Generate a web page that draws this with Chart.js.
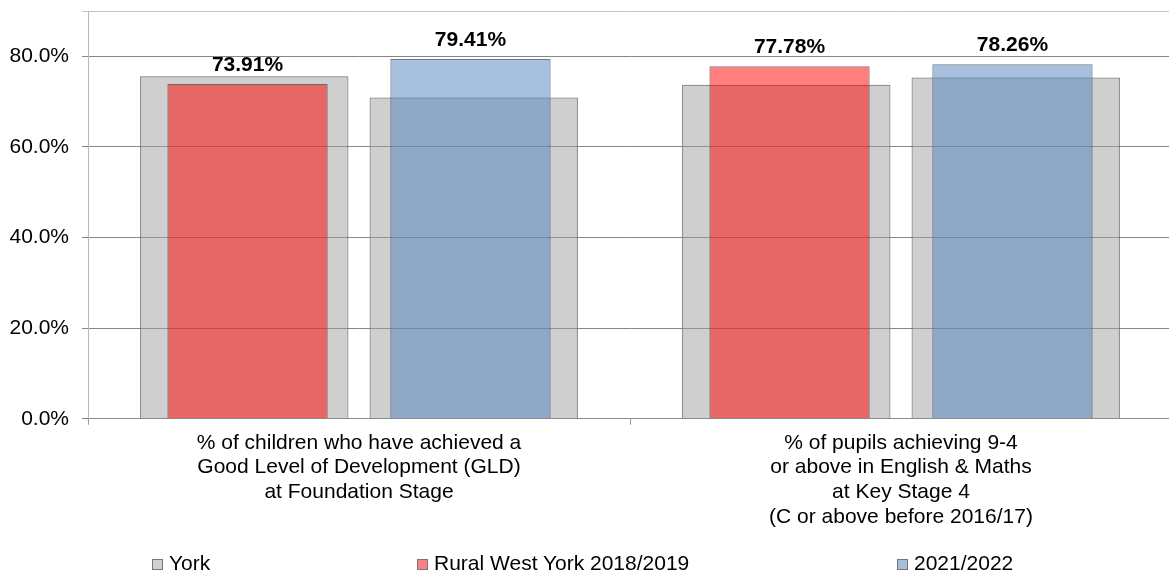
<!DOCTYPE html>
<html>
<head>
<meta charset="utf-8">
<script src="https://cdn.jsdelivr.net/npm/chart.js@4.4.1/dist/chart.umd.min.js"></script>
<style>
  html, body { margin: 0; padding: 0; background: #fff; overflow: hidden; width: 1169px; height: 574px; }
  #wrap { position: absolute; left: 0; top: 0; width: 1172px; height: 574px; }
  #legend { position: absolute; left: 0; top: 0; width: 1169px; height: 574px; pointer-events: none;
            font-family: 'Liberation Sans', Arial, sans-serif; font-size: 21px; color: #000; }
  .item { position: absolute; top: 551px; white-space: nowrap; line-height: 24px; }
  .box { display: inline-block; width: 9px; height: 9px; border: 1px solid #777; margin-right: 6px; vertical-align: 0px; }
</style>
</head>
<body>
<div id="wrap"><canvas id="c"></canvas></div>
<div id="legend"></div>
<script>
const categories = [
  ['% of children who have achieved a', 'Good Level of Development (GLD)', 'at Foundation Stage'],
  ['% of pupils achieving 9-4', 'or above in English & Maths', 'at Key Stage 4', '(C or above before 2016/17)']
];
const yorkPrev = [75.6, 73.7];
const yorkCurr = [70.9, 75.3];
const ruralPrev = [73.91, 77.78];
const ruralCurr = [79.41, 78.26];
const seriesNames = ['York', 'Rural West York 2018/2019', '2021/2022'];
const yTickValues = [0, 20, 40, 60, 80];
const yMax = 90;

const FONT = "'Liberation Sans', Arial, sans-serif";
const GREY_FILL = 'rgba(160,160,160,0.5)';
const RED_FILL = 'rgba(255,0,0,0.5)';
const BLUE_FILL = 'rgba(79,129,189,0.5)';

const greyOpts = { backgroundColor: GREY_FILL, borderColor: '#6e6e6e', borderWidth: 1,
                   categoryPercentage: 0.8466, barPercentage: 0.908, order: 2 };
const colOpts = { borderWidth: 1, categoryPercentage: 0.8226, barPercentage: 0.719, order: 1 };

const valueLabels = {
  id: 'valueLabels',
  afterDatasetsDraw(chart) {
    const ctx = chart.ctx;
    ctx.save();
    ctx.font = "bold 21px " + FONT;
    ctx.fillStyle = '#000';
    ctx.textAlign = 'center';
    ctx.textBaseline = 'alphabetic';
    chart.data.datasets.forEach((ds, di) => {
      if (!ds.showValue) return;
      const meta = chart.getDatasetMeta(di);
      meta.data.forEach((el, i) => {
        ctx.fillText(ds.data[i].toFixed(2) + '%', el.x, el.y - 13);
      });
    });
    ctx.restore();
  }
};

new Chart(document.getElementById('c'), {
  type: 'bar',
  data: {
    labels: categories,
    datasets: [
      Object.assign({ label: seriesNames[0], data: yorkPrev, stack: 'prev' }, greyOpts),
      Object.assign({ label: seriesNames[0] + ' (2021/2022)', data: yorkCurr, stack: 'curr' }, greyOpts),
      Object.assign({ label: seriesNames[1], data: ruralPrev, stack: 'prev', backgroundColor: RED_FILL, borderColor: 'rgba(70,40,40,0.65)', showValue: true }, colOpts),
      Object.assign({ label: seriesNames[2], data: ruralCurr, stack: 'curr', backgroundColor: BLUE_FILL, borderColor: 'rgba(40,50,70,0.65)', showValue: true }, colOpts)
    ]
  },
  options: {
    responsive: true,
    maintainAspectRatio: false,
    animation: false,
    layout: { padding: { left: 9, top: 11, right: 0, bottom: 39 } },
    plugins: { legend: { display: false }, tooltip: { enabled: false } },
    scales: {
      x: {
        type: 'category',
        offset: true,
        grid: { offset: true, drawOnChartArea: false, drawTicks: true, tickLength: 6, color: '#9a9a9a' },
        border: { display: true, color: '#8c8c8c' },
        ticks: { font: { family: FONT, size: 21, lineHeight: 1.17 }, color: '#000', padding: 6, maxRotation: 0, autoSkip: false }
      },
      y: {
        min: 0,
        max: yMax,
        stacked: false,
        afterBuildTicks(axis) {
          axis.ticks = yTickValues.concat([yMax]).map(v => ({ value: v }));
        },
        afterFit(axis) {
          axis.width = 79;
          axis.paddingTop = 0;
        },
        grid: {
          color: (c) => (c.tick && c.tick.value === yMax) ? '#c4c4c4' : '#868686',
          tickLength: 6,
          drawTicks: true
        },
        border: { display: true, color: '#b8b8b8' },
        ticks: {
          font: { family: FONT, size: 21 },
          color: '#000',
          padding: 13,
          callback: (v) => (v === yMax ? '' : v.toFixed(1) + '%')
        }
      }
    }
  },
  plugins: [valueLabels]
});

// legend (HTML, real text)
const legendFills = ['#d0d0d0', '#ff8080', '#a7bfdf'];
const legendLeft = [152, 417, 897];
const lg = document.getElementById('legend');
seriesNames.forEach((name, i) => {
  const d = document.createElement('div');
  d.className = 'item';
  d.style.left = legendLeft[i] + 'px';
  const b = document.createElement('span');
  b.className = 'box';
  b.style.background = legendFills[i];
  d.appendChild(b);
  d.appendChild(document.createTextNode(name));
  lg.appendChild(d);
});
</script>
</body>
</html>
